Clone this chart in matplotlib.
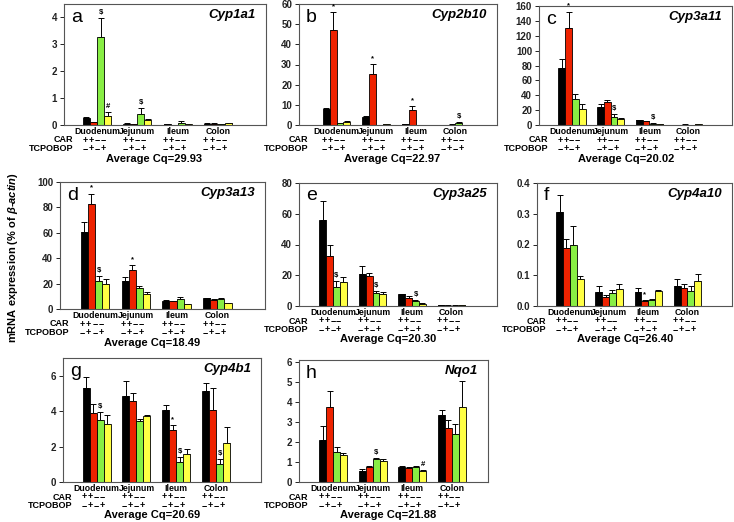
import matplotlib
matplotlib.use("Agg")
import matplotlib.pyplot as plt
from matplotlib.ticker import MultipleLocator, FormatStrFormatter

plt.rcParams['font.family'] = 'Liberation Sans'
plt.rcParams['mathtext.fontset'] = 'custom'
plt.rcParams['mathtext.it'] = 'Liberation Sans:italic:bold'
plt.rcParams['mathtext.rm'] = 'Liberation Sans:bold'

# Data: rows = tissue, columns = CAR+/- x TCPOBOP groups
tissues = ['Duodenum', 'Jejunum', 'Ileum', 'Colon']
car_signs = ['+', '+', '\u2212', '\u2212']
tcpobop_signs = ['\u2212', '+', '\u2212', '+']
bar_colors = ['black', '#ee2200', '#88ee44', '#ffff44']

cyp1a1_mean = [[0.25, 0.10, 3.28, 0.35], [0.05, 0.02, 0.40, 0.18],
               [0.03, 0.01, 0.09, 0.03], [0.05, 0.05, 0.03, 0.06]]
cyp1a1_err = [[0.06, 0.02, 0.69, 0.12], [0.01, 0.01, 0.22, 0.05],
              [0.01, 0.005, 0.06, 0.01], [0.01, 0.01, 0.01, 0.01]]
cyp1a1_marks = [(0, 2, '$'), (0, 3, '#'), (1, 2, '$')]

cyp2b10_mean = [[8.0, 47.3, 1.0, 1.5], [3.8, 25.2, 0.1, 0.4],
                [0.3, 7.2, 0.05, 0.1], [0.1, 0.2, 1.0, 0.05]]
cyp2b10_err = [[0.5, 8.5, 0.2, 0.3], [0.7, 5.0, 0.05, 0.1],
               [0.05, 2.0, 0.02, 0.02], [0.02, 0.05, 0.4, 0.02]]
cyp2b10_marks = [(0, 1, '*'), (1, 1, '*'), (2, 1, '*'), (3, 2, '$')]

cyp3a11_mean = [[77, 131, 35.5, 21.3], [24, 31.5, 11.3, 8],
                [6.5, 5, 1.5, 1.2], [0.4, 0.6, 0.3, 1.0]]
cyp3a11_err = [[11.5, 21.5, 6.8, 6.4], [4.5, 2.0, 3.5, 1.0],
               [0.5, 0.5, 0.6, 0.3], [0.1, 0.1, 0.1, 0.2]]
cyp3a11_marks = [(0, 1, '*'), (1, 2, '$'), (2, 2, '$')]

cyp3a13_mean = [[60.3, 83, 21.7, 19.8], [21.9, 30.8, 16.4, 11.7],
                [6.5, 6, 8, 4], [8.5, 7, 7.5, 4.5]]
cyp3a13_err = [[8.4, 7.9, 4.4, 4.2], [3.1, 3.9, 1.9, 1.9],
               [0.7, 0.5, 1.5, 0.3], [0.4, 1.0, 1.0, 0.3]]
cyp3a13_marks = [(0, 1, '*'), (0, 2, '$'), (1, 1, '*')]

cyp3a25_mean = [[55.7, 32.5, 12.4, 15.4], [21, 19.3, 8.5, 7.8],
                [7.5, 5.5, 3, 1.5], [0.4, 0.3, 0.3, 0.6]]
cyp3a25_err = [[12.4, 7.2, 3.9, 3.5], [4.8, 2.2, 1.3, 1.2],
               [0.5, 0.7, 1.0, 0.3], [0.1, 0.1, 0.1, 0.1]]
cyp3a25_marks = [(0, 2, '$'), (1, 2, '$'), (2, 2, '$')]

cyp4a10_mean = [[0.305, 0.19, 0.2, 0.088], [0.047, 0.028, 0.042, 0.055],
                [0.046, 0.017, 0.02, 0.048], [0.065, 0.06, 0.05, 0.08]]
cyp4a10_err = [[0.055, 0.028, 0.059, 0.011], [0.018, 0.007, 0.01, 0.015],
               [0.014, 0.003, 0.004, 0.004], [0.023, 0.012, 0.016, 0.023]]
cyp4a10_marks = [(2, 1, '*')]

cyp4b1_mean = [[5.32, 3.87, 3.49, 3.25], [4.85, 4.58, 3.45, 3.72],
               [4.06, 2.96, 1.15, 1.57], [5.15, 4.06, 1.0, 2.2]]
cyp4b1_err = [[0.62, 0.51, 0.47, 0.56], [0.87, 0.46, 0.1, 0.06],
              [0.28, 0.24, 0.27, 0.32], [0.42, 1.22, 0.32, 0.88]]
cyp4b1_marks = [(0, 2, '$'), (2, 1, '*'), (2, 2, '$'), (3, 2, '$')]

nqo1_mean = [[2.1, 3.75, 1.51, 1.33], [0.55, 0.75, 1.16, 1.05],
             [0.75, 0.7, 0.75, 0.55], [3.36, 2.72, 2.4, 3.75]]
nqo1_err = [[0.7, 0.79, 0.22, 0.13], [0.12, 0.05, 0.04, 0.1],
            [0.03, 0.03, 0.03, 0.05], [0.25, 0.39, 0.49, 1.29]]
nqo1_marks = [(1, 2, '$'), (2, 3, '#')]

panels = [
    # letter, gene, mean, err, marks, Cq, ymax, ystep, tick fmt, box px (l, r, t, b), xlim
    ('a', 'Cyp1a1', cyp1a1_mean, cyp1a1_err, cyp1a1_marks, '29.93', 4.5, 1, '%d', (64, 266, 4, 125), (-0.82, 4.19)),
    ('b', 'Cyp2b10', cyp2b10_mean, cyp2b10_err, cyp2b10_marks, '22.97', 60, 10, '%d', (299, 497, 4, 125), (-0.95, 4.06)),
    ('c', 'Cyp3a11', cyp3a11_mean, cyp3a11_err, cyp3a11_marks, '20.02', 160, 20, '%d', (539, 732, 6, 125), (-0.85, 4.13)),
    ('d', 'Cyp3a13', cyp3a13_mean, cyp3a13_err, cyp3a13_marks, '18.49', 100, 20, '%d', (60, 265, 182, 309), (-0.86, 4.17)),
    ('e', 'Cyp3a25', cyp3a25_mean, cyp3a25_err, cyp3a25_marks, '20.30', 80, 20, '%d', (299, 497, 183, 306), (-0.86, 4.15)),
    ('f', 'Cyp4a10', cyp4a10_mean, cyp4a10_err, cyp4a10_marks, '26.40', 0.4, 0.1, '%.1f', (537, 732, 183, 306), (-0.84, 4.14)),
    ('g', 'Cyp4b1', cyp4b1_mean, cyp4b1_err, cyp4b1_marks, '20.69', 7, 2, '%d', (63, 261, 358, 482), (-0.84, 4.12)),
    ('h', 'Nqo1', nqo1_mean, nqo1_err, nqo1_marks, '21.88', 6.1, 1, '%d', (299, 488, 360, 482), (-0.86, 3.91)),
]

W, H = 734, 522
PT = 0.72  # points per pixel at dpi 100
fig = plt.figure(figsize=(W / 100, H / 100), dpi=100)

bar_w = 0.175
sign_step = 0.15
for letter, gene, mean, err, marks, cq, ymax, ystep, fmt, box, xlim in panels:
    l, r, t, b = box
    ax = fig.add_axes([l / W, 1 - b / H, (r - l) / W, (b - t) / H])

    for j in range(4):
        xs = [g + (j - 1.5) * bar_w for g in range(4)]
        vals = [mean[g][j] for g in range(4)]
        errs = [err[g][j] for g in range(4)]
        ax.bar(xs, vals, width=bar_w, color=bar_colors[j], edgecolor='black',
               linewidth=0.6, zorder=2)
        ax.errorbar(xs, vals, yerr=[[0] * 4, errs], fmt='none', ecolor='black',
                    elinewidth=0.7, capsize=2.2, capthick=0.7, zorder=1)

    for g, j, sym in marks:
        x = g + (j - 1.5) * bar_w
        ax.annotate(sym, xy=(x, mean[g][j] + err[g][j]), xytext=(0, 1.5),
                    textcoords='offset points', ha='center', va='bottom',
                    fontsize=5.5, fontweight='bold')

    ax.set_xlim(*xlim)
    ax.set_ylim(0, ymax)
    ax.yaxis.set_major_locator(MultipleLocator(ystep))
    ax.yaxis.set_major_formatter(FormatStrFormatter(fmt))
    ax.set_xticks([])
    ax.tick_params(axis='y', direction='out', length=3, width=0.7, pad=2,
                   labelsize=7, colors='#222222')
    for lab in ax.get_yticklabels():
        lab.set_fontweight('bold')
    for sp in ax.spines.values():
        sp.set_color('#555555')
        sp.set_linewidth(0.8)

    ax.annotate(letter, xy=(0, 1), xycoords='axes fraction', xytext=(7 * PT, -17.5 * PT),
                textcoords='offset points', ha='left', va='baseline', fontsize=14)
    ax.annotate(gene, xy=(1, 1), xycoords='axes fraction', xytext=(-10 * PT, -14 * PT),
                textcoords='offset points', ha='right', va='baseline', fontsize=9.5,
                fontweight='bold', fontstyle='italic')

    # labels under the axis
    for g, name in enumerate(tissues):
        ax.annotate(name, xy=(g, 0), xycoords=('data', 'axes fraction'),
                    xytext=(0, -6.5 * PT), textcoords='offset points',
                    ha='center', va='center', fontsize=6.3, fontweight='bold')
        for k in range(4):
            xk = g - 0.08 + (k - 1.5) * sign_step
            ax.annotate(car_signs[k], xy=(xk, 0), xycoords=('data', 'axes fraction'),
                        xytext=(0, -15 * PT), textcoords='offset points',
                        ha='center', va='center', fontsize=6.5, fontweight='bold')
            ax.annotate(tcpobop_signs[k], xy=(xk, 0), xycoords=('data', 'axes fraction'),
                        xytext=(0, -23.5 * PT), textcoords='offset points',
                        ha='center', va='center', fontsize=6.5, fontweight='bold')
    ax.annotate('CAR', xy=(0, 0), xycoords='axes fraction', xytext=(9 * PT, -15 * PT),
                textcoords='offset points', ha='right', va='center', fontsize=6.5,
                fontweight='bold')
    ax.annotate('TCPOBOP', xy=(0, 0), xycoords='axes fraction', xytext=(9 * PT, -23.5 * PT),
                textcoords='offset points', ha='right', va='center', fontsize=6.5,
                fontweight='bold')
    ax.annotate('Average Cq=' + cq, xy=(1.4, 0), xycoords=('data', 'axes fraction'),
                xytext=(0, -33.5 * PT), textcoords='offset points', ha='center',
                va='center', fontsize=8, fontweight='bold')

fig.text(13 / W, 1 - 258 / H, 'mRNA expression (% of $\\mathit{\u03b2}$-$\\mathit{actin}$)',
         rotation=90, ha='center', va='center', fontsize=8, fontweight='bold')

fig.savefig('out.png', dpi=100)
